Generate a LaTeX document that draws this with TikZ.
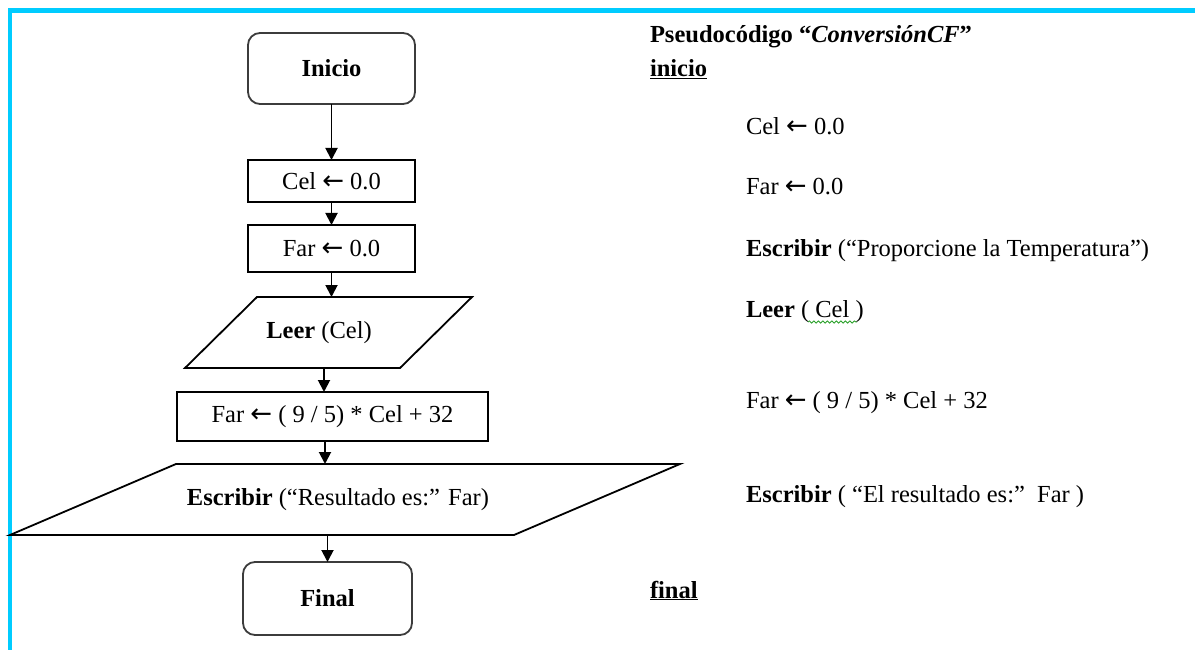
\documentclass[tikz,border=0pt]{standalone}
\usepackage{fontspec}
\setmainfont{Liberation Serif}
\newfontfamily\flechafont{DejaVu Sans}
\usetikzlibrary{arrows.meta,calc,decorations.pathmorphing}
\definecolor{marco}{RGB}{0,204,255}
\definecolor{borde}{RGB}{60,60,60}
\definecolor{ortografia}{RGB}{40,160,40}
% assignment arrow
\newcommand{\asigna}{{\flechafont\fontsize{26}{29}\selectfont ←}}

\begin{document}
\begin{tikzpicture}[x=1pt,y=-1pt,
  every node/.style={font=\fontsize{24.5}{29}\selectfont, inner sep=0pt, outer sep=0pt},
  terminal/.style={draw=borde, line width=1.8pt, rounded corners=12pt},
  proceso/.style={draw=black, line width=1.8pt},
  flecha/.style={line width=1.9pt, -{Triangle[length=12pt,width=12pt]}},
  pseudo/.style={anchor=base west},
]
% page and frame
\fill[white] (0,0) rectangle (1195,650);
\useasboundingbox (0,0) rectangle (1195,650);
\draw[marco, line width=4.5pt] (10,650) -- (10,10.5) -- (1195,10.5);

% ---------- flowchart ----------
\node[terminal, minimum width=167pt, minimum height=71pt] (inicio) at (331.5,68.5) {\textbf{Inicio}};
\node[proceso, minimum width=167pt, minimum height=42pt] (cel) at (331.5,181) {Cel \asigna{} 0.0};
\node[proceso, minimum width=167pt, minimum height=47pt] (far) at (331.5,248.5) {Far \asigna{} 0.0};

% input symbol: text holder plus slanted outline
\node[minimum width=215pt, minimum height=71pt] (leer) at (319,332.5) {\textbf{Leer} (Cel)};
\draw[proceso] ($(leer.north west)+(45.5,0)$) -- ($(leer.north east)+(45.5,0)$)
  -- ($(leer.south east)+(-26.5,0)$) -- ($(leer.south west)+(-26.5,0)$) -- cycle;

\node[proceso, minimum width=311pt, minimum height=49pt] (formula) at (332.5,416.5) {Far \asigna{} ( 9 / 5) * Cel + 32};

% output symbol
\node[minimum width=504pt, minimum height=71pt] (escribir) at (338,499.5) {\textbf{Escribir} (“Resultado es:” Far)};
\draw[proceso] ($(escribir.north west)+(90,0)$) -- ($(escribir.north east)+(90,0)$)
  -- ($(escribir.south east)+(-76,0)$) -- ($(escribir.south west)+(-76,0)$) -- cycle;

\node[terminal, minimum width=169pt, minimum height=73pt] (final) at (327.5,598.5) {\textbf{Final}};

% connectors
\draw[flecha] (inicio.south) -- (cel.north);
\draw[flecha] (cel.south) -- (far.north);
\draw[flecha] (far.south) -- (far.south |- leer.north);
\draw[flecha] ([xshift=5pt]leer.south) -- ([xshift=5pt]leer.south |- formula.north);
\draw[flecha] ([xshift=-7.5pt]formula.south) -- ([xshift=-7.5pt]formula.south |- escribir.north);
\draw[flecha] (final.north |- escribir.south) -- (final.north);

% ---------- pseudocode ----------
\node[pseudo] (titulo) at (650,43) {\textbf{Pseudocódigo “\textit{ConversiónCF}”}};
\node[pseudo] (ini) at (650,77) {\textbf{\underline{inicio}}};
\node[pseudo] (p1) at (746,135) {Cel \asigna{} 0.0};
\node[pseudo] (p2) at (746,194) {Far \asigna{} 0.0};
\node[pseudo] (p3) at (746,256) {\textbf{Escribir} (“Proporcione la Temperatura”)};
\node[pseudo] (p4) at (746,317) {\textbf{Leer} ( Cel )};
\node[pseudo] (p5) at (746,408) {Far \asigna{} ( 9 / 5) * Cel + 32};
\node[pseudo] (p6) at (746,502) {\textbf{Escribir} ( “El resultado es:”\ \ Far )};
\node[pseudo] (fin) at (650,598) {\textbf{\underline{final}}};

% spelling mark under "( Cel"
\draw[ortografia, line width=0.8pt, decorate,
  decoration={snake, amplitude=1.1pt, segment length=4.5pt}]
  ($(p4.base west)+(62,5)$) -- ($(p4.base west)+(111,5)$);
\end{tikzpicture}
\end{document}
